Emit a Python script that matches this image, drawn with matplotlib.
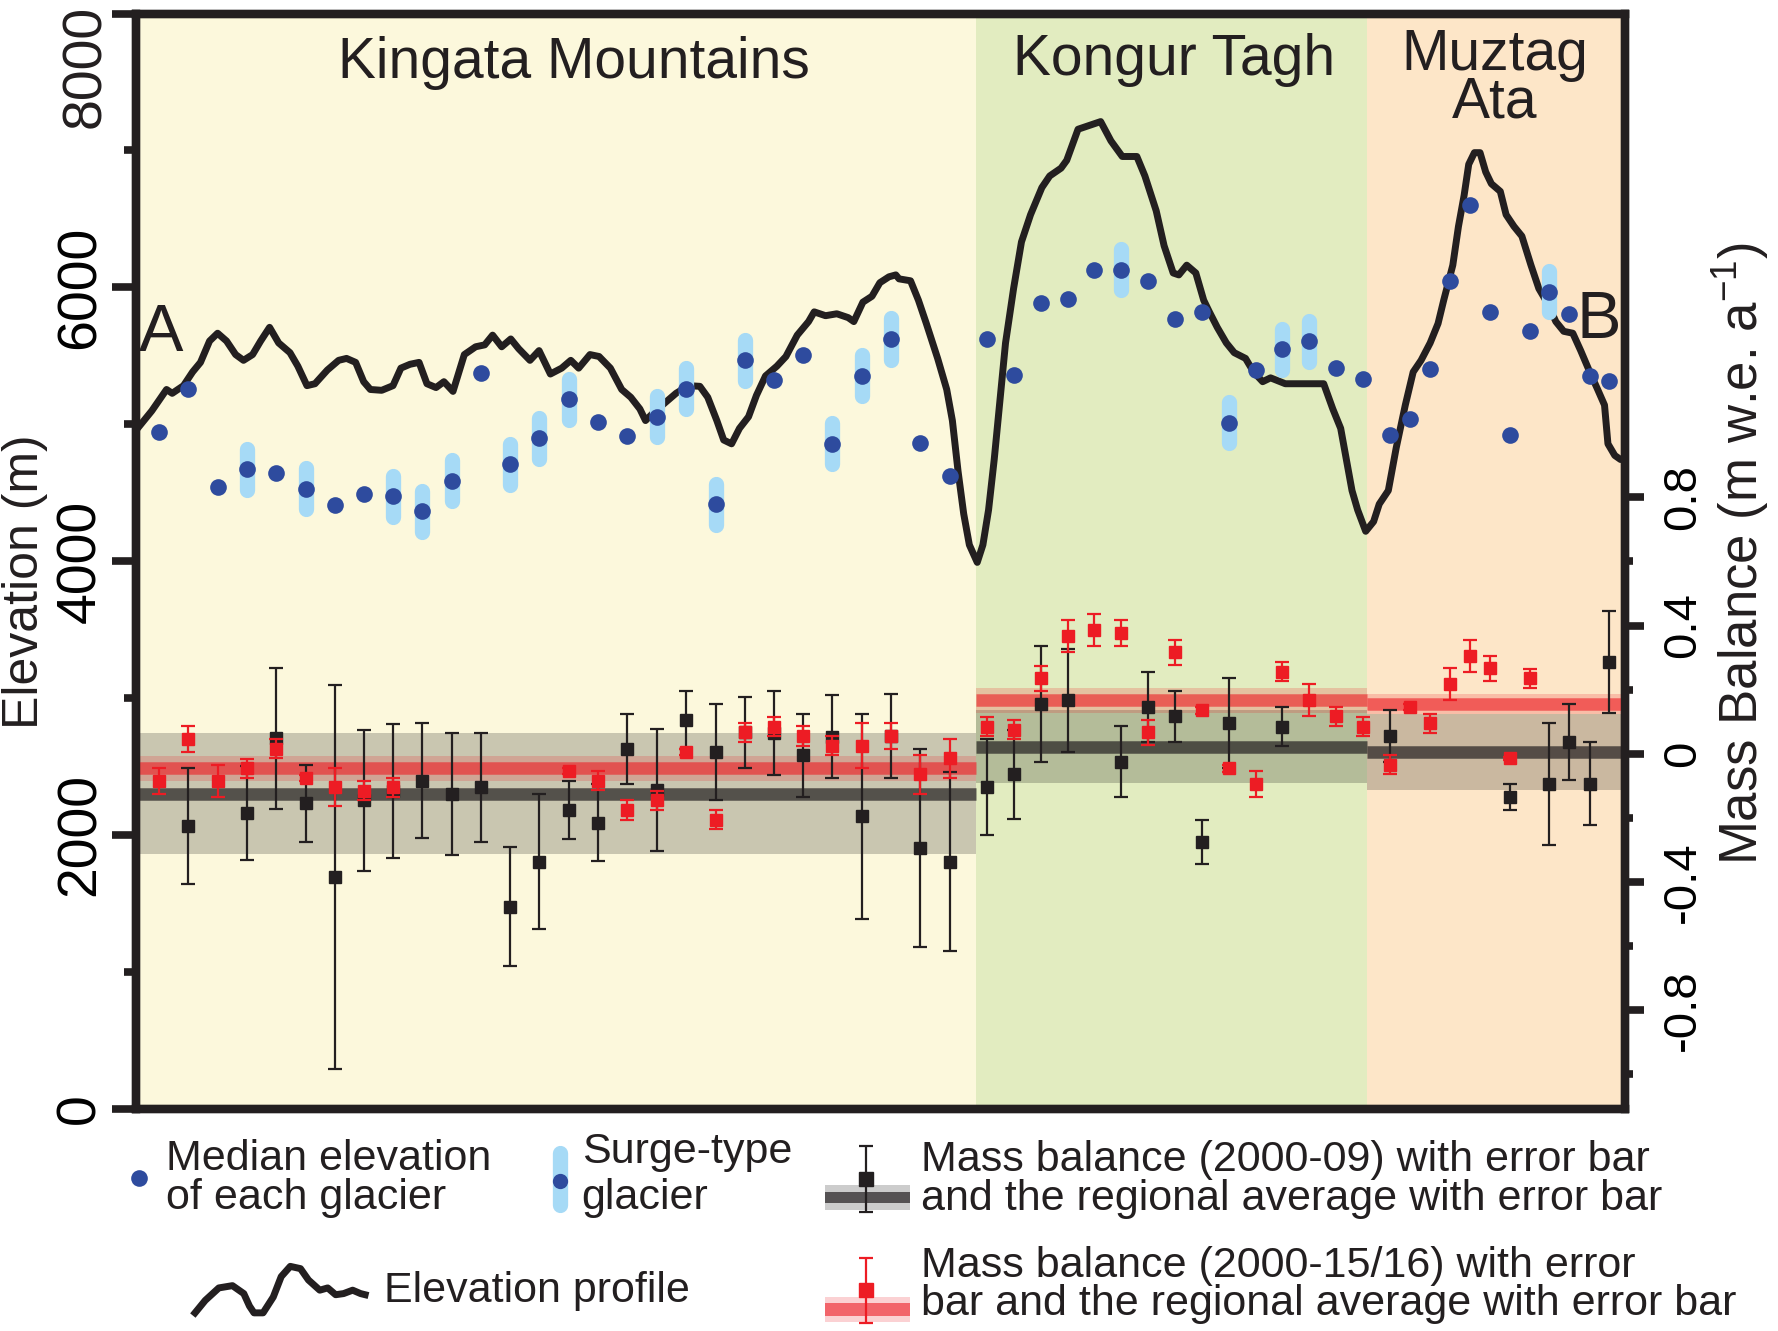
import numpy as np
import matplotlib.pyplot as plt

plt.rcParams['font.family'] = ['Liberation Sans', 'DejaVu Sans']
plt.rcParams['mathtext.default'] = 'regular'

# ---- data (x = position along profile A-B, 0..100) ----
regions = ['Kingata Mountains', 'Kongur Tagh', 'Muztag\nAta']
region_edges = [0, 56.4, 82.7, 100]
region_colors = ['#FCF8DC', '#E2ECC0', '#FDE6C8']

profile_x = [0.0, 1.06, 2.05, 2.43, 3.19, 3.80, 4.33, 4.94, 5.48, 6.08, 6.69, 7.22, 7.83, 8.37,
             8.97, 9.58, 10.34, 10.87, 11.48, 12.02, 12.85, 13.61, 14.14, 14.75, 15.29, 15.74,
             16.50, 17.26, 17.79, 18.40, 19.01, 19.54, 20.15, 20.68, 21.29, 22.05, 22.81, 23.42,
             23.95, 24.56, 25.17, 25.70, 26.46, 27.07, 27.83, 28.59, 29.20, 29.73, 30.49, 31.10,
             31.86, 32.62, 33.23, 33.84, 34.22, 34.75, 35.51, 36.27, 37.11, 37.87, 38.40, 39.01,
             39.47, 40.00, 40.53, 41.14, 41.67, 42.28, 43.04, 43.65, 44.41, 45.17, 45.55, 46.31,
             47.07, 47.83, 48.21, 48.82, 49.43, 49.96, 50.57, 51.03, 51.25, 52.02, 52.55, 53.08,
             53.84, 54.45, 54.83, 55.21, 55.59, 55.97, 56.50, 56.88, 57.26, 57.64, 58.02, 58.40,
             58.94, 59.47, 60.08, 60.84, 61.37, 62.13, 62.51, 63.27, 64.03, 64.79, 65.48, 66.24,
             67.22, 67.76, 68.52, 69.05, 69.66, 70.04, 70.57, 71.18, 71.71, 72.09, 72.62, 73.23,
             73.76, 74.52, 75.06, 75.67, 76.20, 77.19, 77.87, 79.01, 79.77, 80.38, 80.91, 81.29,
             81.67, 82.05, 82.59, 83.12, 83.50, 84.11, 84.64, 85.25, 85.78, 86.31, 86.92, 87.45,
             87.83, 88.44, 88.82, 89.20, 89.51, 89.89, 90.27, 90.65, 91.03, 91.63, 92.02, 92.55,
             93.08, 93.69, 94.22, 94.83, 95.36, 95.89, 96.50, 97.03, 97.64, 98.17, 98.63, 98.86,
             99.32, 99.70, 100.0]
profile_elev = [4956, 5098, 5254, 5226, 5282, 5382, 5452, 5608, 5665, 5608, 5509, 5467, 5509, 5608,
                5708, 5594, 5523, 5424, 5282, 5296, 5396, 5467, 5481, 5452, 5311, 5254,
                5248, 5282, 5410, 5438, 5452, 5296, 5268, 5311, 5240, 5509, 5566, 5580,
                5651, 5566, 5623, 5552, 5467, 5538, 5367, 5410, 5467, 5410, 5509, 5495,
                5410, 5254, 5197, 5112, 5027, 5084, 5155, 5226, 5282, 5277, 5197, 5027,
                4885, 4857, 4970, 5055, 5211, 5353, 5424, 5495, 5651, 5750, 5821, 5793,
                5807, 5779, 5750, 5892, 5935, 6034, 6077, 6091, 6062, 6048, 5906, 5736,
                5481, 5254, 5027, 4658, 4346, 4119, 3991, 4119, 4374, 4743, 5169, 5594,
                5991, 6332, 6531, 6729, 6814, 6871, 6928, 7155, 7183, 7211, 7070, 6956,
                6956, 6814, 6559, 6304, 6105, 6091, 6162, 6105, 5906, 5821, 5708, 5594,
                5523, 5481, 5382, 5311, 5339, 5296, 5296, 5296, 5296, 5112, 4970, 4743,
                4516, 4374, 4218, 4289, 4417, 4516, 4828, 5140, 5382, 5467, 5594, 5736,
                5906, 6162, 6445, 6672, 6899, 6984, 6984, 6843, 6757, 6701, 6531, 6445,
                6374, 6162, 5991, 5878, 5750, 5679, 5665, 5538, 5382, 5254, 5140, 4857,
                4772, 4743, 4743]

glacier_x = [1.52, 3.50, 5.48, 7.45, 9.39, 11.41, 13.38, 15.32, 17.26, 19.24, 21.22, 23.19,
             25.14, 27.07, 29.05, 31.03, 33.00, 34.98, 36.96, 38.94, 40.91, 42.85, 44.79,
             46.77, 48.75, 50.72, 52.67, 54.65, 57.16, 58.97, 60.76, 62.58, 64.37, 66.18,
             67.98, 69.79, 71.60, 73.39, 75.19, 77.00, 78.80, 80.60, 82.40, 84.25, 85.57,
             86.92, 88.27, 89.59, 90.94, 92.25, 93.60, 94.92, 96.24, 97.63, 98.94]
median_elev = [4942, 5254, 4545, 4672, 4644, 4530, 4408, 4494, 4474, 4366, 4587, 5373, 4709,
               4899, 5183, 5013, 4913, 5055, 5260, 4417, 5467, 5325, 5509, 4857, 5353, 5623,
               4865, 4621, 5623, 5359, 5887, 5915, 6125, 6128, 6043, 5767, 5821, 5010, 5396,
               5549, 5606, 5410, 5330, 4922, 5035, 5401, 6048, 6601, 5821, 4922, 5679, 5969,
               5807, 5353, 5319]
surge_type = [0, 0, 0, 1, 0, 1, 0, 0, 1, 1, 1, 0, 1, 1, 1, 0, 0, 1, 1, 1, 1, 0, 0, 1, 1, 1, 0, 0,
              0, 0, 0, 0, 0, 1, 0, 0, 0, 1, 0, 1, 1, 0, 0,
              0, 0, 0, 0, 0, 0, 0, 0, 1, 0, 0, 0]

# mass balance 2000-09 (m w.e. a-1)
mb_0009 = [None, -0.226, None, -0.186, 0.048, -0.155, -0.386, -0.146, -0.116, -0.085,
           -0.126, -0.105, -0.478, -0.337, -0.176, -0.216, 0.015, -0.114, 0.105, 0.004,
           0.066, 0.064, -0.005, 0.053, -0.195, 0.055, -0.295, -0.337, -0.105, -0.065,
           0.155, 0.166, None, -0.025, 0.146, 0.116, -0.276, 0.095, None, 0.084,
           None, None, None, 0.055, None, None, None, None, None, -0.135,
           None, -0.094, 0.036, -0.094, 0.286]
mb_0009_err = [None, 0.18, None, 0.146, 0.22, 0.12, 0.60, 0.22, 0.21, 0.18,
               0.19, 0.17, 0.185, 0.21, 0.09, 0.12, 0.11, 0.19, 0.09, 0.15,
               0.11, 0.13, 0.13, 0.13, 0.32, 0.13, 0.31, 0.28, 0.15, 0.14,
               0.18, 0.16, None, 0.11, 0.11, 0.08, 0.07, 0.14, None, 0.06,
               None, None, None, 0.08, None, None, None, None, None, 0.04,
               None, 0.19, 0.12, 0.13, 0.16]
# mass balance 2000-15/16
mb_0016 = [-0.085, 0.045, -0.085, -0.046, 0.015, -0.076, -0.105, -0.116, -0.105, None,
           None, None, None, None, -0.055, -0.085, -0.176, -0.146, 0.005, -0.206,
           0.066, 0.084, 0.055, 0.025, 0.025, 0.055, -0.065, -0.015, 0.084, 0.075,
           0.235, 0.366, 0.385, 0.376, 0.066, 0.316, 0.135, -0.046, -0.094, 0.256,
           0.166, 0.116, 0.084, -0.035, 0.146, 0.095, 0.216, 0.306, 0.266, -0.015,
           0.235, None, None, None, None]
mb_0016_err = [0.04, 0.041, 0.05, 0.03, 0.03, 0.01, 0.06, 0.03, 0.03, None,
               None, None, None, None, 0.01, 0.03, 0.03, 0.03, 0.01, 0.03,
               0.03, 0.03, 0.03, 0.03, 0.07, 0.04, 0.06, 0.06, 0.03, 0.03,
               0.04, 0.05, 0.05, 0.04, 0.04, 0.04, 0.01, 0.01, 0.04, 0.03,
               0.05, 0.03, 0.03, 0.03, 0.01, 0.03, 0.05, 0.05, 0.04, 0.005,
               0.03, None, None, None, None]

region_mb_0009 = [-0.125, 0.022, 0.005]
region_mb_0009_err = [0.19, 0.115, 0.12]
region_mb_0016 = [-0.046, 0.166, 0.155]
region_mb_0016_err = [0.04, 0.04, 0.03]

# legend glyph for the profile (overlay pixel coords)
legend_wave_x = [172, 181, 193, 205, 215, 220, 224, 232, 241, 248, 256, 265, 272, 282, 289, 296,
                 303, 311, 318, 322]
legend_wave_y = [1158, 1147, 1136, 1134, 1141, 1152, 1158, 1158, 1144, 1126, 1117, 1119, 1129,
                 1138, 1136, 1142, 1141, 1138, 1141, 1142]

BLACK = '#231F20'
RED = '#ED1C24'
BLUE = '#2E4B9E'
LBLUE = '#A6DAF6'

fig = plt.figure(figsize=(17.78, 13.31), dpi=100)
ax = fig.add_axes([0.0765, 0.167, 0.8374, 0.8228])
ax.set_xlim(0, 100)
ax.set_ylim(0, 8000)

for i in range(3):
    ax.axvspan(region_edges[i], region_edges[i + 1], color=region_colors[i], lw=0, zorder=0)

ax.plot(profile_x, profile_elev, color=BLACK, lw=5, solid_joinstyle='round', zorder=3)

for x, e, s in zip(glacier_x, median_elev, surge_type):
    if s:
        ax.plot([x, x], [e - 150, e + 150], color=LBLUE, lw=11, solid_capstyle='round', zorder=4)
ax.plot(glacier_x, median_elev, 'o', ms=12, color=BLUE, mec='none', zorder=5)

# region titles and profile end labels
ax.text(29.43, 7528, regions[0], fontsize=41, ha='center', va='baseline', color=BLACK)
ax.text(69.7, 7554, regions[1], fontsize=41, ha='center', va='baseline', color=BLACK)
ax.text(91.25, 7238, regions[2], fontsize=41, ha='center', va='baseline',
        multialignment='center', linespacing=0.86, color=BLACK)
ax.text(1.7, 5656, 'A', fontsize=48, ha='center', va='center', color=BLACK)
ax.text(98.25, 5756, 'B', fontsize=48, ha='center', va='center', color=BLACK)

ax.set_yticks([0, 2000, 4000, 6000, 8000])
ax.set_yticklabels(['0', '2000', '4000', '6000', ''])
ax.set_yticks([1000, 3000, 5000, 7000], minor=True)
ax.tick_params(axis='y', which='major', direction='out', length=17, width=5.5, labelsize=40,
               pad=4, labelrotation=90, color=BLACK)
ax.tick_params(axis='y', which='minor', direction='out', length=9, width=5.5, color=BLACK)
ax.tick_params(axis='x', bottom=False, labelbottom=False)
plt.setp(ax.get_yticklabels(), va='center')
for sp in ax.spines.values():
    sp.set_linewidth(6)
    sp.set_color(BLACK)

# mass balance on right axis
ax2 = ax.twinx()
ax2.set_ylim(-1.109, 2.311)
for i in range(3):
    a, b = region_edges[i], region_edges[i + 1]
    m, e = region_mb_0009[i], region_mb_0009_err[i]
    ax2.fill_between([a, b], m - e, m + e, color='black', alpha=0.2, lw=0, zorder=1)
    ax2.plot([a, b], [m, m], color=BLACK, alpha=0.7, lw=9, solid_capstyle='butt', zorder=2)
    m, e = region_mb_0016[i], region_mb_0016_err[i]
    ax2.fill_between([a, b], m - e, m + e, color=RED, alpha=0.2, lw=0, zorder=1)
    ax2.plot([a, b], [m, m], color=RED, alpha=0.6, lw=9, solid_capstyle='butt', zorder=2)

bx = [x for x, v in zip(glacier_x, mb_0009) if v is not None]
by = [v for v in mb_0009 if v is not None]
be = [v for v in mb_0009_err if v is not None]
rx = [x for x, v in zip(glacier_x, mb_0016) if v is not None]
ry = [v for v in mb_0016 if v is not None]
re_ = [v for v in mb_0016_err if v is not None]
ax2.errorbar(bx, by, yerr=be, fmt='s', color=BLACK, ms=8.5, elinewidth=1.6, capsize=5,
             capthick=1.6, zorder=6)
ax2.errorbar(rx, ry, yerr=re_, fmt='s', color=RED, ms=8, elinewidth=1.6, capsize=5,
             capthick=1.6, zorder=7)

ax2.set_yticks([-0.8, -0.4, 0, 0.4, 0.8])
ax2.set_yticklabels(['-0.8', '-0.4', '0', '0.4', '0.8'])
ax2.set_yticks([-1.0, -0.6, -0.2, 0.2, 0.6], minor=True)
ax2.tick_params(axis='y', which='major', direction='out', length=14, width=5.5, labelsize=34,
                pad=12, labelrotation=90, color=BLACK)
ax2.tick_params(axis='y', which='minor', direction='out', length=6, width=5.5, color=BLACK)
plt.setp(ax2.get_yticklabels(), va='center')
for sp in ax2.spines.values():
    sp.set_linewidth(6)
    sp.set_color(BLACK)

# overlay in pixel-like coordinates for labels and legend
ov = fig.add_axes([0, 0, 1, 1])
ov.set_xlim(0, 1568)
ov.set_ylim(1174, 0)
ov.axis('off')
ov.patch.set_visible(False)

ov.text(76, 59, '8000', rotation=90, fontsize=40, ha='center', va='center', color=BLACK)
ov.text(22, 513, 'Elevation (m)', rotation=90, fontsize=36, ha='center', va='center', color=BLACK)
ov.text(1535, 488, 'Mass Balance (m w.e. a$^{-1}$)', rotation=90, fontsize=38,
        ha='center', va='center', color=BLACK)

fs = 31
ov.plot(122.6, 1039.3, 'o', ms=12, color=BLUE, mec='none')
ov.text(146, 1032, 'Median elevation', fontsize=fs, va='baseline', color=BLACK)
ov.text(146, 1066, 'of each glacier', fontsize=fs, va='baseline', color=BLACK)

ov.plot([493.6, 493.6], [1017, 1063], lw=11, color=LBLUE, solid_capstyle='round')
ov.plot(493.6, 1042, 'o', ms=11, color=BLUE, mec='none')
ov.text(513, 1026, 'Surge-type', fontsize=fs, va='baseline', color=BLACK)
ov.text(513, 1066, 'glacier', fontsize=fs, va='baseline', color=BLACK)

ov.plot(legend_wave_x, legend_wave_y, color=BLACK, lw=5, solid_joinstyle='round')
ov.text(339, 1148, 'Elevation profile', fontsize=fs, va='baseline', color=BLACK)

ov.fill_between([727.6, 802.9], 1045, 1067.4, color='black', alpha=0.2, lw=0)
ov.fill_between([727.6, 802.9], 1051, 1061.3, color=BLACK, alpha=0.7, lw=0)
ov.errorbar(764, 1040, yerr=29, fmt='s', color=BLACK, ms=10, elinewidth=1.6, capsize=5,
            capthick=1.6)
ov.text(812, 1033, 'Mass balance (2000-09) with error bar', fontsize=fs, va='baseline', color=BLACK)
ov.text(812, 1067, 'and the regional average with error bar', fontsize=fs, va='baseline',
        color=BLACK)

ov.fill_between([727.6, 802.9], 1143.8, 1165.9, color=RED, alpha=0.2, lw=0)
ov.fill_between([727.6, 802.9], 1149, 1160.9, color=RED, alpha=0.6, lw=0)
ov.errorbar(764, 1138, yerr=28.7, fmt='s', color=RED, ms=10, elinewidth=1.6, capsize=5,
            capthick=1.6)
ov.text(812, 1126, 'Mass balance (2000-15/16) with error', fontsize=fs, va='baseline', color=BLACK)
ov.text(812, 1160, 'bar and the regional average with error bar', fontsize=fs, va='baseline',
        color=BLACK)

fig.savefig('out.png', dpi=100, facecolor='white')
